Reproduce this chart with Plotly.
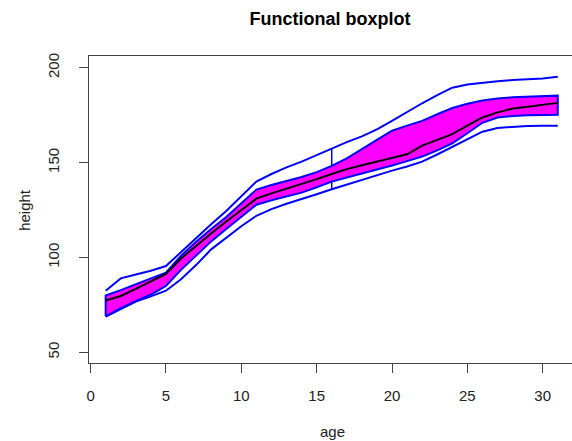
import plotly.graph_objects as go

# index of age grid (fbplot uses 1..31)
age_index = list(range(1, 32))

upper_whisker = [82.5, 89.0, 91.0, 93.0, 95.5, 103.0, 110.5, 117.5, 124.5, 132.3,
                 140.0, 144.0, 147.5, 150.5, 154.0, 157.7, 160.8, 163.8, 167.5, 172.0,
                 176.8, 181.3, 185.6, 189.5, 191.2, 192.2, 192.9, 193.5, 193.9, 194.3, 195.3]
box_upper = [80.0, 82.8, 85.8, 89.0, 92.0, 101.0, 108.3, 115.0, 121.3, 128.5,
             135.8, 138.2, 140.4, 142.4, 145.0, 148.3, 152.3, 157.0, 162.0, 166.8,
             169.5, 172.0, 175.5, 178.8, 181.0, 182.8, 183.8, 184.4, 184.8, 185.1, 185.3]
median = [77.3, 79.7, 83.5, 87.5, 91.3, 99.5, 106.3, 112.7, 119.0, 125.2,
          131.0, 133.8, 136.2, 138.6, 141.3, 144.0, 146.6, 148.6, 150.5, 152.5,
          154.4, 159.0, 162.0, 165.0, 169.5, 173.8, 176.5, 178.5, 179.5, 180.3, 181.5]
box_lower = [69.0, 73.3, 77.0, 80.5, 85.0, 93.5, 101.0, 108.5, 115.0, 121.5,
             127.8, 130.2, 132.2, 134.2, 137.0, 140.0, 142.2, 144.2, 146.2, 148.5,
             150.8, 153.2, 156.5, 160.2, 165.5, 171.0, 173.8, 174.6, 175.0, 175.1, 175.2]
lower_whisker = [68.8, 72.8, 76.8, 79.5, 82.5, 88.5, 96.0, 104.3, 110.5, 116.5,
                 122.0, 125.5, 128.3, 130.6, 133.3, 136.0, 138.5, 141.0, 143.5, 145.8,
                 148.0, 150.5, 154.3, 158.4, 162.3, 166.3, 168.3, 168.9, 169.3, 169.4, 169.5]

x_ticks = [0, 5, 10, 15, 20, 25, 30]
y_ticks = [50, 100, 150, 200]

mid = len(age_index) // 2  # central index (16)

# plot area in screen pixels (page body margin removed below)
SCR_L, SCR_R, SCR_T, SCR_B = 89.0, 572.0, 56.0, 363.3
W, H = 572, 441
PW, PH = SCR_R - SCR_L, SCR_B - SCR_T


def px(sx):
    return (sx - SCR_L) / PW


def py(sy):
    return (SCR_B - sy) / PH


fig = go.Figure()

# envelope (whisker curves)
fig.add_trace(go.Scatter(x=age_index, y=upper_whisker, mode="lines",
                         line=dict(color="#0000FF", width=2)))
fig.add_trace(go.Scatter(x=age_index, y=lower_whisker, mode="lines",
                         line=dict(color="#0000FF", width=2)))

# 50% central region polygon
poly_x = age_index + age_index[::-1] + [age_index[0]]
poly_y = box_lower + box_upper[::-1] + [box_lower[0]]
fig.add_trace(go.Scatter(x=poly_x, y=poly_y, mode="lines", fill="toself",
                         fillcolor="#FF00FF", line=dict(color="#0000FF", width=2)))

# whisker bars at the middle index
fig.add_trace(go.Scatter(x=[age_index[mid], age_index[mid]],
                         y=[box_upper[mid], upper_whisker[mid]], mode="lines",
                         line=dict(color="#0000FF", width=1.5)))
fig.add_trace(go.Scatter(x=[age_index[mid], age_index[mid]],
                         y=[box_lower[mid], lower_whisker[mid]], mode="lines",
                         line=dict(color="#0000FF", width=1.5)))

# median curve
fig.add_trace(go.Scatter(x=age_index, y=median, mode="lines",
                         line=dict(color="black", width=2)))

font_family = "Liberation Sans, Arial, sans-serif"
txt_col = "#222222"
ax_col = "#444444"

x_lo = -1.6 / 15.07
x_hi = (SCR_R - 90.6) / 15.07

fig.update_layout(
    width=W, height=H,
    margin=dict(l=SCR_L, r=0, t=SCR_T, b=H - SCR_B),
    plot_bgcolor="white", paper_bgcolor="white",
    showlegend=False,
    hovermode=False,
    font=dict(family=font_family, size=14, color=txt_col),
    title=dict(text="<b>Functional boxplot</b>", x=330 / W, xanchor="center",
               y=1 - 19 / H, yanchor="middle",
               font=dict(family=font_family, size=18, color="black")),
    xaxis=dict(range=[x_lo, x_hi], tickvals=x_ticks, ticktext=[str(t) for t in x_ticks],
               showgrid=False, zeroline=False, showline=True, mirror=True,
               linecolor=ax_col, linewidth=1, ticks="outside", ticklen=9,
               tickcolor=ax_col, automargin=False, ticklabelstandoff=10,
               tickfont=dict(size=15, color=txt_col)),
    yaxis=dict(range=[44.4, 206.2], tickvals=y_ticks, ticktext=[str(t) for t in y_ticks],
               showgrid=False, zeroline=False, showline=True, mirror=False,
               linecolor=ax_col, linewidth=1, ticks="outside", ticklen=9,
               tickcolor=ax_col, tickangle=-90, automargin=False, ticklabelstandoff=14,
               tickfont=dict(size=15, color=txt_col)),
    annotations=[
        dict(text="age", xref="paper", yref="paper", x=px(332),
             y=py(432), xanchor="center", yanchor="middle",
             showarrow=False, font=dict(size=15, color=txt_col)),
        dict(text="height", xref="paper", yref="paper", x=px(25),
             y=py(210), xanchor="center", yanchor="middle",
             textangle=-90, showarrow=False, font=dict(size=15, color=txt_col)),
    ],
)

fig.write_html("out.html",
               config={"displayModeBar": False, "staticPlot": True},
               post_script="document.body.style.margin='0';"
                           "document.body.style.overflow='hidden';")
